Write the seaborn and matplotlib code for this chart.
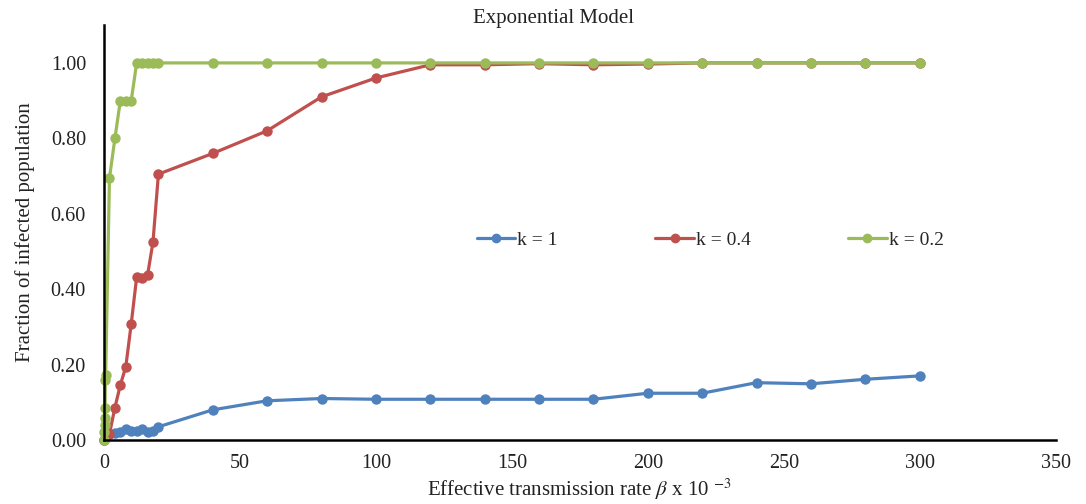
import matplotlib
matplotlib.use("Agg")
import matplotlib.pyplot as plt
import seaborn as sns
import pandas as pd
from matplotlib.ticker import FormatStrFormatter, MultipleLocator

# Effective transmission rate (beta x 10^-3)
beta_main = [0, 2, 4, 6, 8, 10, 12, 14, 16, 18, 20,
             40, 60, 80, 100, 120, 140, 160, 180, 200, 220, 240, 260, 280, 300]
beta_fine = [0, 0.1, 0.2, 0.3, 0.4, 0.5, 0.6]

# Fraction of infected population for each dispersion parameter k
frac_k1 = [0.0, 0.015, 0.018, 0.020, 0.028, 0.025, 0.025, 0.028, 0.022, 0.025, 0.035,
           0.080, 0.104, 0.110, 0.108, 0.108, 0.108, 0.108, 0.108, 0.124, 0.124,
           0.152, 0.149, 0.161, 0.170]
frac_k04 = [0.0, 0.016, 0.086, 0.146, 0.194, 0.308, 0.432, 0.430, 0.437, 0.525, 0.705,
            0.760, 0.820, 0.910, 0.960, 0.995, 0.995, 0.998, 0.995, 0.997, 1.0,
            1.0, 1.0, 1.0, 1.0]
frac_k02_fine = [0.0, 0.022, 0.040, 0.058, 0.085, 0.159, 0.172]
frac_k02 = [0.695, 0.800, 0.900, 0.900, 0.900, 1.0, 1.0, 1.0, 1.0, 1.0,
            1.0, 1.0, 1.0, 1.0, 1.0, 1.0, 1.0, 1.0, 1.0, 1.0, 1.0, 1.0, 1.0, 1.0]

labels = ["k = 1", "k = 0.4", "k = 0.2"]
colors = ["#4F81BD", "#C0504D", "#9BBB59"]

df = pd.concat([
    pd.DataFrame({"beta": beta_main, "frac": frac_k1, "series": labels[0]}),
    pd.DataFrame({"beta": beta_main, "frac": frac_k04, "series": labels[1]}),
    pd.DataFrame({"beta": beta_fine + beta_main[1:], "frac": frac_k02_fine + frac_k02,
                  "series": labels[2]}),
], ignore_index=True)

sns.set_theme(style="white")
plt.rcParams["font.family"] = ["Liberation Serif", "DejaVu Serif"]
plt.rcParams["mathtext.fontset"] = "stix"

fig = plt.figure(figsize=(10.86, 5.04), dpi=100)
ax = fig.add_axes([0.0958, 0.127, 0.8762, 0.823])

for lab, col in zip(labels, colors):
    sub = df[df["series"] == lab]
    sns.lineplot(data=sub, x="beta", y="frac", ax=ax, color=col, label=lab,
                 marker="o", markersize=7.5, markeredgewidth=0, linewidth=2.3,
                 estimator=None, sort=True, clip_on=False)

ax.set_xlim(0, 350)
ax.set_ylim(0, 1.1)
ax.xaxis.set_major_locator(MultipleLocator(50))
ax.yaxis.set_major_formatter(FormatStrFormatter("%.2f"))
ax.set_yticks([0, 0.2, 0.4, 0.6, 0.8, 1.0])

for side in ["top", "right"]:
    ax.spines[side].set_visible(False)
for side in ["left", "bottom"]:
    ax.spines[side].set_color("black")
    ax.spines[side].set_linewidth(1.8)

ax.tick_params(axis="both", direction="inout", length=8, width=1.5,
               colors="black", labelsize=14.5, pad=6)
ax.tick_params(axis="y", pad=9)
for t in ax.get_xticklabels() + ax.get_yticklabels():
    t.set_color("#222222")

ax.set_xlabel(r"Effective transmission rate $\beta$ x 10 $^{-3}$", fontsize=15,
              color="#222222", labelpad=3)
ax.set_ylabel("Fraction of infected population", fontsize=15,
              color="#222222", labelpad=11)
fig.text(0.510, 1 - 18 / 504, "Exponential Model", fontsize=15,
         color="#222222", ha="center", va="center")

leg = ax.legend(loc="center", bbox_to_anchor=(0.637, 0.482), ncol=3, frameon=False,
                fontsize=14, handlelength=2.0, handletextpad=0.1,
                columnspacing=5.0)
for h in leg.legend_handles:
    h.set_markersize(7)

fig.savefig("out.png", dpi=100, facecolor="white")
